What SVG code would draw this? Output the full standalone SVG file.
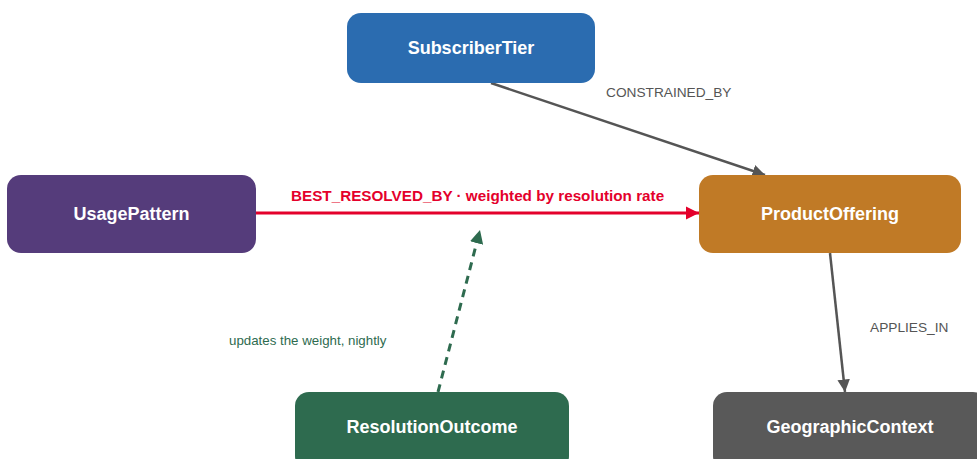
<svg xmlns="http://www.w3.org/2000/svg" width="977" height="459" viewBox="0 0 977 459">
  <defs>
    <marker id="arrow-gray" viewBox="0 0 10 10" refX="10" refY="5" markerWidth="5" markerHeight="5" orient="auto" markerUnits="strokeWidth">
      <path d="M0,0 L10,5 L0,10 z" fill="#555555"/>
    </marker>
    <marker id="arrow-red" viewBox="0 0 10 10" refX="10" refY="5" markerWidth="4.5" markerHeight="4.5" orient="auto" markerUnits="strokeWidth">
      <path d="M0,0 L10,5 L0,10 z" fill="#e4002b"/>
    </marker>
    <marker id="arrow-green" viewBox="0 0 10 10" refX="10" refY="5" markerWidth="4.5" markerHeight="4.5" orient="auto" markerUnits="strokeWidth">
      <path d="M0,0 L10,5 L0,10 z" fill="#2e6b4f"/>
    </marker>
    <style>
      .node-label { font-family: "Liberation Sans", Arial, sans-serif; font-size: 18px; font-weight: bold; fill: #ffffff; text-anchor: middle; dominant-baseline: central; }
      .edge-label { font-family: "Liberation Sans", Arial, sans-serif; font-size: 13.7px; fill: #555555; }
      .edge { fill: none; stroke: #555555; stroke-width: 2.5; }
    </style>
  </defs>

  <rect width="977" height="459" fill="#ffffff"/>

  <g id="connectors">
    <line class="edge" x1="491" y1="83" x2="765" y2="175" marker-end="url(#arrow-gray)"/>
    <text class="edge-label" x="606" y="97">CONSTRAINED_BY</text>

    <line x1="256" y1="213" x2="699" y2="213" stroke="#e4002b" stroke-width="3" marker-end="url(#arrow-red)"/>
    <text x="291" y="201" font-family="Liberation Sans, Arial, sans-serif" font-size="15.25" font-weight="bold" fill="#e4002b">BEST_RESOLVED_BY · weighted by resolution rate</text>

    <line x1="438" y1="392" x2="480" y2="230" stroke="#2e6b4f" stroke-width="3" stroke-dasharray="8,6" marker-end="url(#arrow-green)"/>
    <text class="edge-label" x="229" y="345" style="fill:#2e6b4f; font-size:13.3px">updates the weight, nightly</text>

    <line class="edge" x1="830" y1="253" x2="845" y2="392" marker-end="url(#arrow-gray)"/>
    <text class="edge-label" x="870" y="332">APPLIES_IN</text>
  </g>

  <g id="SubscriberTier">
    <rect x="347" y="13" width="248" height="70" rx="14" fill="#2b6cb0"/>
    <text class="node-label" x="471" y="48">SubscriberTier</text>
  </g>

  <g id="UsagePattern">
    <rect x="7" y="175" width="249" height="78" rx="14" fill="#553c7b"/>
    <text class="node-label" x="131.5" y="214">UsagePattern</text>
  </g>

  <g id="ProductOffering">
    <rect x="699" y="175" width="262" height="78" rx="14" fill="#c07a26"/>
    <text class="node-label" x="830" y="214">ProductOffering</text>
  </g>

  <g id="ResolutionOutcome">
    <rect x="295" y="392" width="274" height="78" rx="14" fill="#2e6b4f"/>
    <text class="node-label" x="432" y="427">ResolutionOutcome</text>
  </g>

  <g id="GeographicContext">
    <rect x="713" y="392" width="274" height="78" rx="14" fill="#595959"/>
    <text class="node-label" x="850" y="427">GeographicContext</text>
  </g>
</svg>
